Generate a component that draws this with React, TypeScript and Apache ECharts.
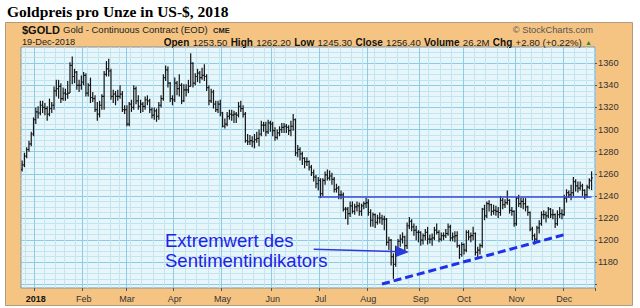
import React, { useEffect, useRef } from 'react';
import * as echarts from 'echarts';

// Trading days (Dec 21, 2017 – Dec 19, 2018)
const dec17Days = [21, 22, 26, 27, 28, 29];
const janDays = [2, 3, 4, 5, 8, 9, 10, 11, 12, 16, 17, 18, 19, 22, 23, 24, 25, 26, 29, 30, 31];
const febDays = [1, 2, 5, 6, 7, 8, 9, 12, 13, 14, 15, 16, 20, 21, 22, 23, 26, 27, 28];
const marDays = [1, 2, 5, 6, 7, 8, 9, 12, 13, 14, 15, 16, 19, 20, 21, 22, 23, 26, 27, 28, 29];
const aprDays = [2, 3, 4, 5, 6, 9, 10, 11, 12, 13, 16, 17, 18, 19, 20, 23, 24, 25, 26, 27, 30];
const mayDays = [1, 2, 3, 4, 7, 8, 9, 10, 11, 14, 15, 16, 17, 18, 21, 22, 23, 24, 25, 29, 30, 31];
const junDays = [1, 4, 5, 6, 7, 8, 11, 12, 13, 14, 15, 18, 19, 20, 21, 22, 25, 26, 27, 28, 29];
const julDays = [2, 3, 5, 6, 9, 10, 11, 12, 13, 16, 17, 18, 19, 20, 23, 24, 25, 26, 27, 30, 31];
const augDays = [1, 2, 3, 6, 7, 8, 9, 10, 13, 14, 15, 16, 17, 20, 21, 22, 23, 24, 27, 28, 29, 30, 31];
const sepDays = [4, 5, 6, 7, 10, 11, 12, 13, 14, 17, 18, 19, 20, 21, 24, 25, 26, 27, 28];
const octDays = [1, 2, 3, 4, 5, 8, 9, 10, 11, 12, 15, 16, 17, 18, 19, 22, 23, 24, 25, 26, 29, 30, 31];
const novDays = [1, 2, 5, 6, 7, 8, 9, 12, 13, 14, 15, 16, 19, 20, 21, 23, 26, 27, 28, 29, 30];
const decDays = [3, 4, 5, 6, 7, 10, 11, 12, 13, 14, 17, 18, 19];

const monthLabels = ['2018', 'Feb', 'Mar', 'Apr', 'May', 'Jun', 'Jul', 'Aug', 'Sep', 'Oct', 'Nov', 'Dec'];

// OHLC rows [open, high, low, close]
const dec17Ohlc = [
  [1264, 1272, 1262, 1268], [1268, 1279, 1266, 1276], [1276, 1284, 1274, 1282],
  [1282, 1290, 1280, 1287], [1287, 1298, 1285, 1296], [1296, 1311, 1294, 1309],
];
const janOhlc = [
  [1309, 1320, 1305, 1316], [1316, 1321, 1310, 1315], [1315, 1326, 1313, 1322], [1322, 1326, 1315, 1320],
  [1320, 1324, 1313, 1319], [1319, 1321, 1308, 1314], [1314, 1328, 1312, 1319], [1319, 1325, 1315, 1322],
  [1322, 1339, 1318, 1335], [1335, 1345, 1330, 1337], [1337, 1345, 1328, 1339], [1339, 1342, 1324, 1328],
  [1328, 1338, 1326, 1333], [1333, 1337, 1326, 1332], [1332, 1344, 1328, 1333], [1333, 1361, 1333, 1358],
  [1358, 1366, 1341, 1348], [1348, 1355, 1342, 1352], [1352, 1353, 1336, 1340], [1340, 1345, 1334, 1340],
  [1340, 1349, 1336, 1343],
];
const febOhlc = [
  [1343, 1352, 1340, 1349], [1349, 1351, 1330, 1333], [1333, 1342, 1330, 1340], [1340, 1347, 1324, 1329],
  [1329, 1334, 1325, 1328], [1328, 1331, 1316, 1318], [1318, 1325, 1308, 1314], [1314, 1326, 1311, 1322],
  [1322, 1332, 1318, 1330], [1330, 1353, 1318, 1350], [1350, 1362, 1348, 1355], [1355, 1364, 1348, 1353],
  [1353, 1355, 1327, 1330], [1330, 1336, 1324, 1332], [1332, 1335, 1322, 1330], [1330, 1336, 1326, 1330],
  [1330, 1340, 1328, 1332], [1332, 1335, 1316, 1318], [1318, 1322, 1314, 1318],
];
const marOhlc = [
  [1318, 1322, 1303, 1305], [1305, 1325, 1303, 1323], [1323, 1327, 1316, 1320], [1320, 1340, 1318, 1337],
  [1337, 1339, 1323, 1326], [1326, 1331, 1318, 1321], [1321, 1327, 1315, 1323], [1323, 1325, 1316, 1321],
  [1321, 1330, 1318, 1327], [1327, 1331, 1322, 1326], [1326, 1328, 1315, 1318], [1318, 1320, 1310, 1313],
  [1313, 1320, 1309, 1317], [1317, 1319, 1307, 1312], [1312, 1325, 1309, 1322], [1322, 1331, 1320, 1328],
  [1328, 1350, 1326, 1347], [1347, 1358, 1344, 1354], [1354, 1357, 1338, 1342], [1342, 1343, 1325, 1328],
  [1328, 1331, 1322, 1327],
];
const aprOhlc = [
  [1327, 1347, 1325, 1342], [1342, 1344, 1331, 1337], [1337, 1350, 1330, 1340], [1340, 1342, 1323, 1326],
  [1326, 1341, 1325, 1336], [1336, 1341, 1330, 1336], [1336, 1345, 1333, 1339], [1339, 1369, 1339, 1360],
  [1360, 1361, 1338, 1342], [1342, 1351, 1340, 1348], [1348, 1355, 1343, 1351], [1351, 1353, 1342, 1347],
  [1347, 1356, 1345, 1349], [1349, 1359, 1344, 1348], [1348, 1350, 1335, 1338], [1338, 1340, 1322, 1326],
  [1326, 1337, 1324, 1334], [1334, 1336, 1319, 1323], [1323, 1326, 1316, 1318], [1318, 1326, 1315, 1323],
  [1323, 1327, 1312, 1315],
];
const mayOhlc = [
  [1315, 1316, 1302, 1303], [1303, 1310, 1301, 1305], [1305, 1316, 1303, 1312], [1312, 1318, 1309, 1314],
  [1314, 1318, 1308, 1313], [1313, 1317, 1306, 1314], [1314, 1316, 1306, 1313], [1313, 1325, 1311, 1321],
  [1321, 1326, 1316, 1319], [1319, 1322, 1311, 1314], [1314, 1316, 1288, 1290], [1290, 1296, 1286, 1289],
  [1289, 1295, 1286, 1290], [1290, 1294, 1284, 1289], [1289, 1296, 1283, 1291], [1291, 1298, 1288, 1292],
  [1292, 1300, 1285, 1296], [1296, 1308, 1294, 1304], [1304, 1307, 1298, 1304], [1304, 1307, 1294, 1298],
  [1298, 1309, 1296, 1306], [1306, 1308, 1298, 1305],
];
const junOhlc = [
  [1305, 1307, 1294, 1299], [1299, 1302, 1290, 1293], [1293, 1300, 1291, 1297], [1297, 1303, 1294, 1300],
  [1300, 1306, 1297, 1302], [1302, 1306, 1297, 1303], [1303, 1305, 1297, 1302], [1302, 1304, 1295, 1299],
  [1299, 1308, 1294, 1303], [1303, 1314, 1299, 1309], [1309, 1310, 1276, 1279], [1279, 1286, 1275, 1282],
  [1282, 1284, 1272, 1278], [1278, 1280, 1268, 1274], [1274, 1275, 1265, 1271], [1271, 1275, 1267, 1271],
  [1271, 1272, 1263, 1266], [1266, 1268, 1258, 1261], [1261, 1264, 1253, 1257], [1257, 1259, 1247, 1251],
  [1251, 1257, 1245, 1254],
];
const julOhlc = [
  [1254, 1256, 1238, 1242], [1242, 1256, 1240, 1254], [1254, 1262, 1250, 1259], [1259, 1264, 1254, 1256],
  [1256, 1263, 1254, 1258], [1258, 1261, 1250, 1255], [1255, 1257, 1243, 1246], [1246, 1251, 1243, 1247],
  [1247, 1249, 1237, 1241], [1241, 1245, 1237, 1241], [1241, 1243, 1226, 1228], [1228, 1230, 1219, 1228],
  [1228, 1230, 1214, 1224], [1224, 1235, 1221, 1231], [1231, 1235, 1224, 1226], [1226, 1233, 1223, 1230],
  [1230, 1235, 1226, 1231], [1231, 1234, 1222, 1226], [1226, 1233, 1222, 1231], [1231, 1235, 1228, 1233],
  [1233, 1238, 1229, 1234],
];
const augOhlc = [
  [1234, 1237, 1222, 1225], [1225, 1228, 1212, 1218], [1218, 1225, 1212, 1223], [1223, 1224, 1211, 1216],
  [1216, 1223, 1214, 1220], [1220, 1225, 1215, 1220], [1220, 1223, 1214, 1219], [1219, 1222, 1209, 1219],
  [1219, 1220, 1195, 1198], [1198, 1203, 1191, 1200], [1200, 1201, 1177, 1185], [1185, 1188, 1165, 1178],
  [1178, 1195, 1176, 1191], [1191, 1201, 1189, 1199], [1199, 1205, 1194, 1201], [1201, 1207, 1197, 1203],
  [1203, 1204, 1190, 1195], [1195, 1216, 1192, 1213], [1213, 1221, 1210, 1217], [1217, 1219, 1208, 1212],
  [1212, 1215, 1204, 1209], [1209, 1213, 1200, 1207], [1207, 1209, 1198, 1207],
];
const sepOhlc = [
  [1207, 1208, 1195, 1200], [1200, 1206, 1196, 1204], [1204, 1210, 1200, 1207], [1207, 1212, 1196, 1201],
  [1201, 1205, 1197, 1201], [1201, 1206, 1195, 1202], [1202, 1212, 1200, 1209], [1209, 1215, 1205, 1207],
  [1207, 1209, 1198, 1201], [1201, 1207, 1199, 1204], [1204, 1207, 1200, 1204], [1204, 1210, 1202, 1206],
  [1206, 1215, 1204, 1212], [1212, 1214, 1199, 1202], [1202, 1207, 1199, 1203], [1203, 1208, 1198, 1204],
  [1204, 1208, 1193, 1195], [1195, 1196, 1183, 1187], [1187, 1198, 1185, 1196],
];
const octOhlc = [
  [1196, 1197, 1187, 1191], [1191, 1209, 1189, 1207], [1207, 1209, 1200, 1203], [1203, 1207, 1198, 1204],
  [1204, 1212, 1200, 1206], [1206, 1207, 1186, 1189], [1189, 1194, 1184, 1191], [1191, 1197, 1187, 1195],
  [1195, 1229, 1193, 1228], [1228, 1232, 1218, 1222], [1222, 1235, 1220, 1233], [1233, 1236, 1226, 1232],
  [1232, 1233, 1222, 1226], [1226, 1232, 1223, 1227], [1227, 1231, 1222, 1226], [1226, 1230, 1220, 1225],
  [1225, 1240, 1222, 1236], [1236, 1238, 1228, 1232], [1232, 1237, 1229, 1234], [1234, 1245, 1232, 1236],
  [1236, 1237, 1224, 1227], [1227, 1230, 1222, 1226], [1226, 1227, 1212, 1215],
];
const novOhlc = [
  [1215, 1239, 1213, 1238], [1238, 1241, 1230, 1233], [1233, 1238, 1229, 1235], [1235, 1238, 1228, 1233],
  [1233, 1238, 1226, 1230], [1230, 1231, 1222, 1225], [1225, 1226, 1208, 1210], [1210, 1212, 1200, 1204],
  [1204, 1206, 1196, 1201], [1201, 1213, 1199, 1211], [1211, 1218, 1206, 1215], [1215, 1226, 1213, 1223],
  [1223, 1227, 1219, 1223], [1223, 1226, 1216, 1222], [1222, 1230, 1220, 1228], [1228, 1229, 1220, 1223],
  [1223, 1228, 1219, 1223], [1223, 1224, 1211, 1215], [1215, 1227, 1213, 1223], [1223, 1230, 1220, 1224],
  [1224, 1228, 1219, 1223],
];
const decOhlc = [
  [1223, 1241, 1222, 1238], [1238, 1246, 1234, 1243], [1243, 1245, 1238, 1241], [1241, 1250, 1236, 1243],
  [1243, 1257, 1240, 1253], [1253, 1255, 1244, 1249], [1249, 1253, 1243, 1247], [1247, 1253, 1245, 1249],
  [1249, 1251, 1240, 1245], [1245, 1246, 1237, 1241], [1241, 1250, 1238, 1248], [1248, 1256, 1246, 1254],
  [1253.5, 1262.2, 1245.3, 1256.4],
];

// Annotation lines (category index, price)
const resistanceLine = [[130, 1239], [250, 1239]];
const sentimentTrend = [[158, 1160.3], [239, 1205.5]];
const arrowFrom = [128, 1191.7];
const arrowTo = [167, 1189.5];

const monthBlocks: [number, number, number[], number[][]][] = [
  [2017, 12, dec17Days, dec17Ohlc],
  [2018, 1, janDays, janOhlc],
  [2018, 2, febDays, febOhlc],
  [2018, 3, marDays, marOhlc],
  [2018, 4, aprDays, aprOhlc],
  [2018, 5, mayDays, mayOhlc],
  [2018, 6, junDays, junOhlc],
  [2018, 7, julDays, julOhlc],
  [2018, 8, augDays, augOhlc],
  [2018, 9, sepDays, sepOhlc],
  [2018, 10, octDays, octOhlc],
  [2018, 11, novDays, novOhlc],
  [2018, 12, decDays, decOhlc],
];

const pad = (n: number) => (n < 10 ? '0' + n : '' + n);

const categories: string[] = [];
const ohlcData: number[][] = [];
const monthStart: boolean[] = [];
const monthLabelAt: string[] = [];
monthBlocks.forEach(([y, m, days, rows], bi) => {
  days.forEach((d, k) => {
    const idx = categories.length;
    categories.push(`${y}-${pad(m)}-${pad(d)}`);
    const r = rows[k];
    ohlcData.push([idx, r[0], r[1], r[2], r[3]]);
    const isStart = bi > 0 && k === 0;
    monthStart.push(isStart);
    monthLabelAt.push(isStart ? (bi === 1 ? '{b|' + monthLabels[0] + '}' : monthLabels[bi - 1]) : '');
  });
});
categories.push('2018-12-20');
monthStart.push(false);
monthLabelAt.push('');

const weekStart: boolean[] = categories.map((c, i) => {
  if (i === 0) return false;
  const a = new Date(categories[i - 1] + 'T00:00:00Z');
  const b = new Date(c + 'T00:00:00Z');
  return b.getUTCDay() < a.getUTCDay() || (b.getTime() - a.getTime()) / 86400000 >= 7;
});

const SANS = '"Liberation Sans", Arial, sans-serif';

export default function App() {
  const ref = useRef<HTMLDivElement>(null);
  useEffect(() => {
    if (!ref.current) return;
    const chart = echarts.init(ref.current, undefined, { renderer: 'svg' });
    const option: any = {
      animation: false,
      backgroundColor: '#ffffff',
      graphic: [
        { type: 'rect', z: -10, shape: { x: 5.5, y: 22.5, width: 627, height: 283 },
          style: { fill: '#f5c483', stroke: '#b39a7a', lineWidth: 1 } },
        { type: 'text', x: 7, y: 11, style: { text: 'Goldpreis pro Unze in US-$, 2018', fontFamily: '"Liberation Serif", "Times New Roman", serif', fontWeight: 'bold', fontSize: 15.5, fill: '#000', verticalAlign: 'middle' } },
        { type: 'text', x: 22, y: 29.5, style: { text: '$GOLD', fontFamily: SANS, fontWeight: 'bold', fontSize: 11, fill: '#111', verticalAlign: 'middle' } },
        { type: 'text', x: 63, y: 29.5, style: { text: 'Gold - Continuous Contract (EOD)', fontFamily: SANS, fontSize: 9.5, fill: '#222', verticalAlign: 'middle' } },
        { type: 'text', x: 213, y: 30, style: { text: 'CME', fontFamily: SANS, fontWeight: 'bold', fontSize: 7.5, fill: '#222', verticalAlign: 'middle' } },
        { type: 'text', x: 593, y: 29.5, style: { text: '© StockCharts.com', fontFamily: SANS, fontSize: 9.3, fill: '#555', align: 'right', verticalAlign: 'middle' } },
        { type: 'text', x: 22, y: 42, style: { text: '19-Dec-2018', fontFamily: SANS, fontSize: 9.2, fill: '#222', verticalAlign: 'middle' } },
        { type: 'text', x: 592, y: 42, style: {
          text: '{l|Open} {v|1253.50} {l|High} {v|1262.20} {l|Low} {v|1245.30} {l|Close} {v|1256.40} {l|Volume} {v|26.2M} {l|Chg} {v|+2.80 (+0.22%)} {u|▲}',
          align: 'right', verticalAlign: 'middle', fontFamily: SANS,
          rich: {
            l: { fontFamily: SANS, fontWeight: 'bold', fontSize: 10, fill: '#111' },
            v: { fontFamily: SANS, fontSize: 9.6, fill: '#222' },
            u: { fontFamily: SANS, fontSize: 7, fill: '#2e8b2e' },
          },
        } },
        { type: 'text', x: 165, y: 240.5, z: 10, style: { text: 'Extremwert des', fontFamily: SANS, fontSize: 18.5, fill: '#1f22e8', verticalAlign: 'middle' } },
        { type: 'text', x: 165, y: 260.5, z: 10, style: { text: 'Sentimentindikators', fontFamily: SANS, fontSize: 18.5, fill: '#1f22e8', verticalAlign: 'middle' } },
      ],
      grid: { left: 21, top: 47, width: 574, height: 241, show: true, backgroundColor: '#e6f6fa', borderColor: '#8a9296', borderWidth: 1 },
      xAxis: [
        {
          type: 'category', position: 'bottom', data: categories, boundaryGap: true,
          axisLine: { show: false }, axisTick: { show: false }, axisLabel: { show: false },
          splitLine: { show: true, interval: (i: number) => weekStart[i], lineStyle: { color: '#c4e5f0', width: 1 } },
        },
        {
          type: 'category', position: 'bottom', offset: 0, data: categories, boundaryGap: true,
          axisLine: { show: false },
          axisTick: { show: true, interval: (i: number) => monthStart[i], length: 3, lineStyle: { color: '#555' } },
          axisLabel: {
            interval: (i: number) => monthStart[i],
            formatter: (_v: string, i: number) => monthLabelAt[i],
            fontFamily: SANS, fontSize: 9, color: '#333', margin: 6,
            rich: { b: { fontFamily: SANS, fontWeight: 'bold', fontSize: 9, color: '#111' } },
          },
          splitLine: { show: true, interval: (i: number) => monthStart[i], lineStyle: { color: '#8ecbe6', width: 1 } },
        },
      ],
      yAxis: [
        {
          type: 'value', position: 'right', min: 1156.7, max: 1374.7, splitNumber: 10,
          axisLine: { show: false },
          axisTick: { show: true, length: 2, lineStyle: { color: '#555' } },
          axisLabel: {
            fontFamily: SANS, fontSize: 9.3, color: '#333', margin: 3,
            showMinLabel: false, showMaxLabel: false,
            formatter: (v: number) => (v >= 1170 && v <= 1365 ? String(v) : ''),
          },
          splitLine: { show: true, showMinLine: false, showMaxLine: false, lineStyle: { color: '#8ecbe6', width: 1 } },
          minorTick: { show: false, splitNumber: 4 },
          minorSplitLine: { show: true, lineStyle: { color: '#c4e5f0', width: 1 } },
        },
      ],
      series: [
        {
          type: 'custom', name: 'GOLD', xAxisIndex: 1, yAxisIndex: 0, data: ohlcData,
          encode: { x: 0, y: [1, 2, 3, 4] }, clip: true, z: 3,
          renderItem: (_params: any, api: any) => {
            const x = api.value(0);
            const ph = api.coord([x, api.value(2)]);
            const pl = api.coord([x, api.value(3)]);
            const po = api.coord([x, api.value(1)]);
            const pc = api.coord([x, api.value(4)]);
            const w = api.size([1, 0])[0];
            const t = Math.max(w * 0.5, 1);
            const st = { stroke: '#151515', lineWidth: 1.2 };
            return {
              type: 'group',
              children: [
                { type: 'line', shape: { x1: ph[0], y1: ph[1], x2: pl[0], y2: pl[1] }, style: st },
                { type: 'line', shape: { x1: po[0] - t, y1: po[1], x2: po[0], y2: po[1] }, style: st },
                { type: 'line', shape: { x1: pc[0], y1: pc[1], x2: pc[0] + t, y2: pc[1] }, style: st },
              ],
            };
          },
        },
        {
          type: 'line', xAxisIndex: 1, yAxisIndex: 0, data: resistanceLine, symbol: 'none', z: 4,
          lineStyle: { color: '#3a48dc', width: 1.6 }, silent: true,
          markLine: {
            silent: true, symbol: ['none', 'triangle'], symbolSize: [11, 13],
            label: { show: false },
            lineStyle: { color: '#2a3bdc', width: 1.6, type: 'solid' },
            data: [[{ coord: arrowFrom }, { coord: arrowTo }]],
          },
        },
        {
          type: 'line', xAxisIndex: 1, yAxisIndex: 0, data: sentimentTrend, symbol: 'none', z: 4,
          lineStyle: { color: '#1f30ea', width: 3, type: [8, 4] }, silent: true,
        },
      ],
    };
    chart.setOption(option);
    return () => chart.dispose();
  }, []);
  return <div ref={ref} style={{ position: 'fixed', left: 0, top: 0, width: 640, height: 308 }} />;
}
